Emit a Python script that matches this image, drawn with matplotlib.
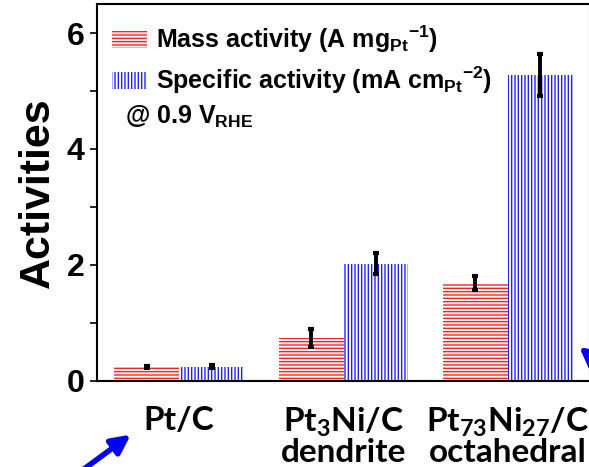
"""
Mass and specific activity bar chart at 0.9 V_RHE
"""
import matplotlib
matplotlib.use("Agg")
import matplotlib.pyplot as plt
import numpy as np

plt.rcParams['font.family'] = ['Liberation Sans', 'DejaVu Sans']
plt.rcParams['font.weight'] = 'bold'
plt.rcParams['mathtext.default'] = 'regular'
plt.rcParams['hatch.linewidth'] = 1.0

# data
catalysts = ["Pt/C", "Pt$_3$Ni/C\ndendrite", "Pt$_{73}$Ni$_{27}$/C\noctahedral"]
mass_activity = [0.24, 0.74, 1.69]
mass_err = [0.02, 0.15, 0.12]
specific_activity = [0.25, 2.02, 5.28]
specific_err = [0.02, 0.18, 0.36]

fig = plt.figure(figsize=(5.89, 4.67), dpi=100)
ax = fig.add_axes([97 / 589, 86 / 467, 493 / 589, 377 / 467])

x = np.arange(len(catalysts))
w = 0.395

# hatch colour comes from edgecolor, linewidth 0 hides the outline
ax.bar(x - w / 2, mass_activity, w, facecolor='white', edgecolor='#ff2020',
       linewidth=0, hatch='-----', label="Mass activity (A mg$_{Pt}$$^{-1}$)")
ax.bar(x + w / 2, specific_activity, w, facecolor='white', edgecolor='#2020ff',
       linewidth=0, hatch='|||||', label="Specific activity (mA cm$_{Pt}$$^{-2}$)")

err_kw = dict(fmt='none', ecolor='black', elinewidth=2.8, capsize=2.5, capthick=3)
ax.errorbar(x - w / 2, mass_activity, yerr=mass_err, **err_kw)
ax.errorbar(x + w / 2, specific_activity, yerr=specific_err, **err_kw)

ax.set_xlim(-0.5, 2.5)
ax.set_ylim(0, 6.5)
ax.set_yticks([0, 2, 4, 6])
ax.set_yticks([1, 3, 5], minor=True)
ax.tick_params(axis='y', which='both', direction='out', length=5, width=1.2,
               labelsize=23, pad=4)
ax.set_xticks(x)
ax.set_xticklabels(catalysts, fontfamily='Lato', fontweight='bold', fontsize=24)
ax.tick_params(axis='x', length=0, pad=18)
for lab in ax.get_xticklabels():
    lab.set_linespacing(0.95)

ax.set_ylabel("Activities", fontsize=31, fontweight='bold', labelpad=6)

for s in ax.spines.values():
    s.set_linewidth(1.5)

ax.legend(loc='upper left', frameon=False, fontsize=18, handlelength=1.4,
          handleheight=0.68, handletextpad=0.4, labelspacing=0.4,
          bbox_to_anchor=(-8 / 493, 1 + 3 / 377), borderaxespad=0.5)
ax.text(0.057, 0.70, "@ 0.9 V$_{RHE}$", transform=ax.transAxes, fontsize=18,
        fontweight='bold', va='center')

# blue arrows pointing at the catalysts
ax.annotate("", xy=(133 / 589, 34 / 467), xytext=(80 / 589, -5 / 467),
            xycoords='figure fraction', textcoords='figure fraction',
            arrowprops=dict(arrowstyle='-|>', color='blue', lw=4,
                            mutation_scale=28), annotation_clip=False)
ax.annotate("", xy=(577 / 589, 122 / 467), xytext=(640 / 589, 70 / 467),
            xycoords='figure fraction', textcoords='figure fraction',
            arrowprops=dict(arrowstyle='-|>', color='blue', lw=4,
                            mutation_scale=28), annotation_clip=False)

fig.savefig("out.png", dpi=100)
